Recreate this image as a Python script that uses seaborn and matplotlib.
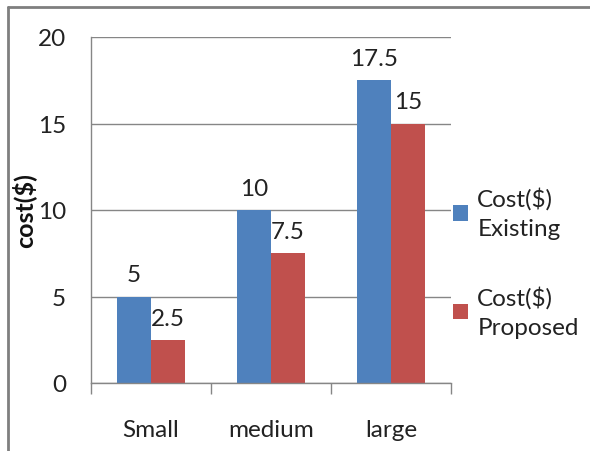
import matplotlib
matplotlib.use("Agg")
import matplotlib.pyplot as plt
import seaborn as sns
import pandas as pd
from matplotlib.lines import Line2D
from matplotlib.patches import Patch

categories = ["Small", "medium", "large"]
existing = [5, 10, 17.5]
proposed = [2.5, 7.5, 15]
series_names = ["Cost($)\nExisting", "Cost($)\nProposed"]
colors = ["#4F81BD", "#C0504D"]
yticks = [0, 5, 10, 15, 20]

df = pd.DataFrame({
    "category": categories * 2,
    "value": existing + proposed,
    "series": [series_names[0]] * 3 + [series_names[1]] * 3,
})

sns.set_theme(style="white")
plt.rcParams["font.family"] = ["Lato", "DejaVu Sans"]
FS = 17.5

fig = plt.figure(figsize=(5.9, 4.52), dpi=100)
ax = fig.add_axes([91/590, 1-384/452, 360/590, 346/452])

sns.barplot(data=df, x="category", y="value", hue="series", order=categories,
            hue_order=series_names, palette=colors, width=0.571, saturation=1,
            edgecolor="none", linewidth=0, ax=ax, legend=False)

for c in ax.containers:
    ax.bar_label(c, fmt="{:g}", padding=8, fontsize=FS, color="#222222")

ax.set_xlim(-0.5, 2.5)
ax.set_ylim(0, 20)
ax.set_yticks(yticks)
ax.set_yticklabels([str(t) for t in yticks], fontsize=FS, color="#222222")
ax.yaxis.grid(True, color="#868686", linewidth=1)
ax.set_axisbelow(True)
ax.tick_params(axis="y", length=8, width=1, color="#868686", pad=10)
ax.tick_params(axis="x", which="major", length=0, pad=26, labelsize=FS, labelcolor="#222222")
ax.set_xticks([-0.5, 0.5, 1.5, 2.5], minor=True)
ax.tick_params(axis="x", which="minor", length=8, width=1, color="#868686", bottom=True)
ax.set_xlabel("")
ax.set_ylabel("")
for s in ["top", "right"]:
    ax.spines[s].set_visible(False)
for s in ["left", "bottom"]:
    ax.spines[s].set_color("#868686")
    ax.spines[s].set_linewidth(1)

fig.text(24/590, 1-211/452, "cost($)", rotation=90, fontsize=FS + 0.5, fontweight="bold",
         ha="center", va="center", color="#111111")

handles = [Patch(facecolor=c, edgecolor="none") for c in colors]
leg = fig.legend(handles, series_names, loc="upper left",
                 bbox_to_anchor=(453/590, 1-188/452), frameon=False, fontsize=FS,
                 handlelength=0.6, handleheight=0.6, handletextpad=0.4,
                 labelspacing=1.9, borderpad=0, borderaxespad=0, labelcolor="#222222")
for t in leg.get_texts():
    t.set_linespacing(1.5)

# outer chart frame (top and left edges visible)
fig.add_artist(Line2D([8/590, 1], [1-8/452, 1-8/452], color="#7f7f7f", linewidth=2, transform=fig.transFigure))
fig.add_artist(Line2D([8/590, 8/590], [0, 1-8/452], color="#7f7f7f", linewidth=2, transform=fig.transFigure))

fig.savefig("out.png", dpi=100)
